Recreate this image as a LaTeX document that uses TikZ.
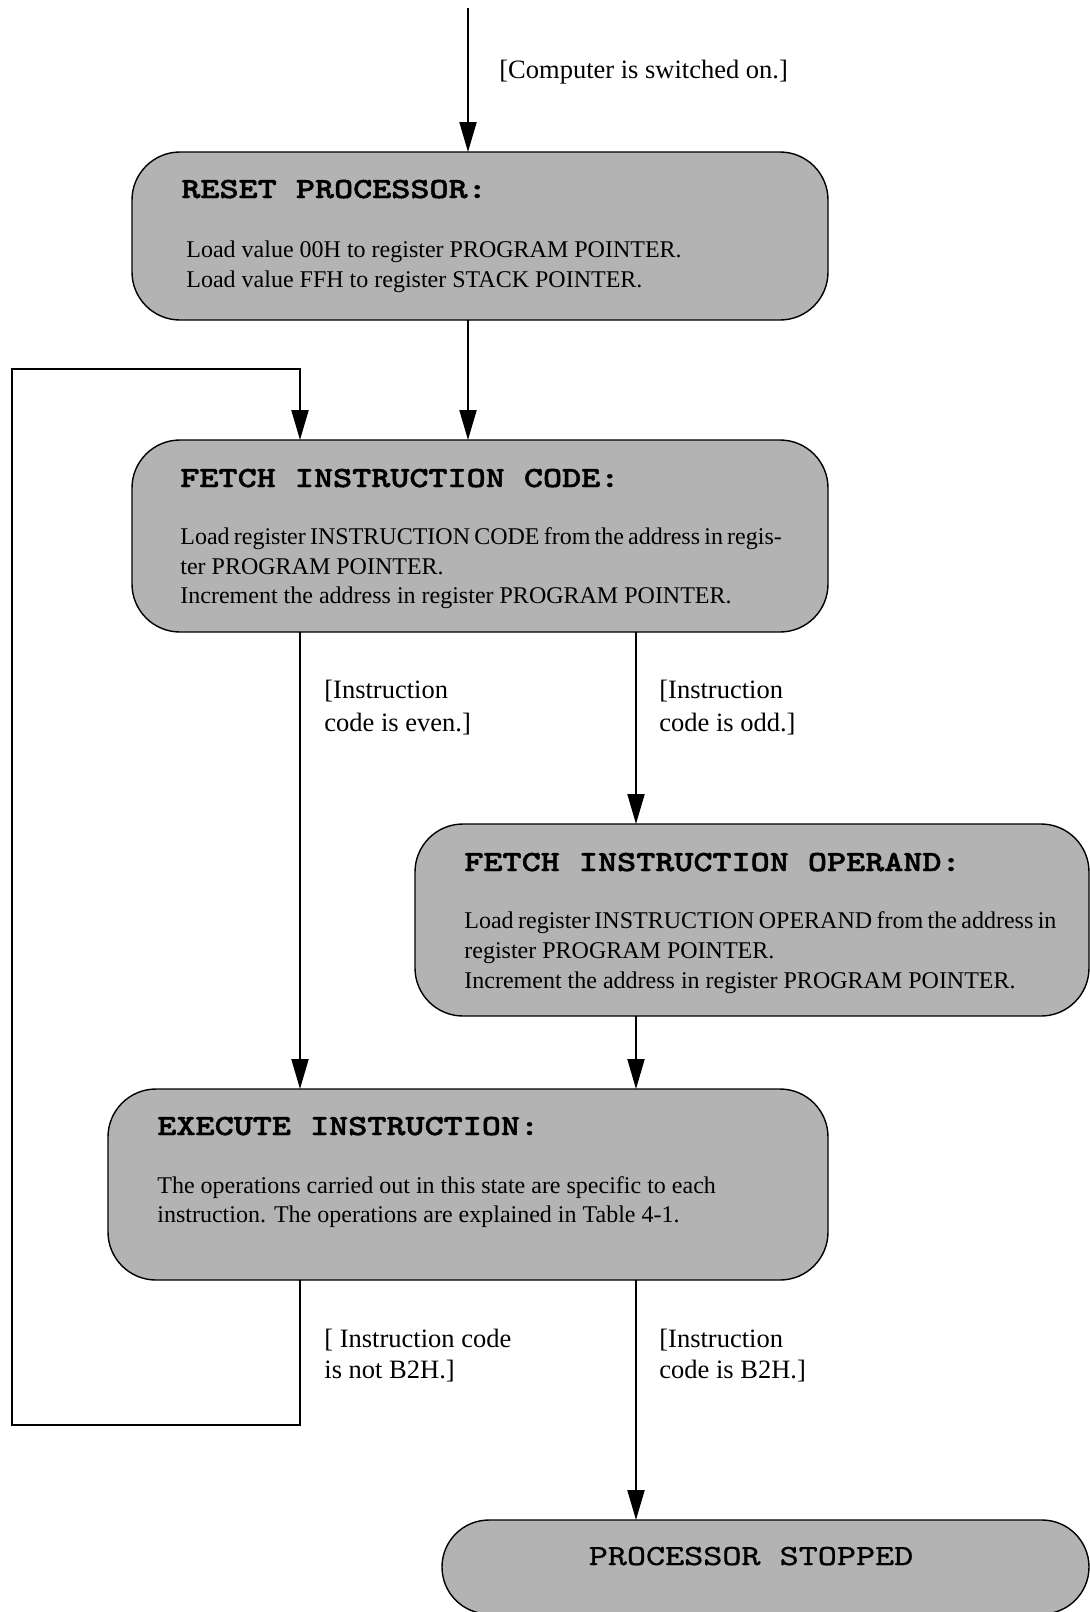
\documentclass[tikz,border=0pt]{standalone}
\usepackage{fontspec}
\setmainfont{Liberation Serif}
\newfontfamily\ttlfont{lmmonolt10-bold}[Extension=.otf, FakeStretch=1.245, FakeBold=1.6]
\newfontfamily\stopfont{lmmono10-regular}[Extension=.otf, FakeStretch=1.245, FakeBold=1]
\usetikzlibrary{arrows.meta}
\definecolor{boxgray}{RGB}{179,179,179}
\begin{document}
\begin{tikzpicture}[x=0.5pt,y=-0.5pt,
  statebox/.style={draw=black, line width=0.7pt, fill=boxgray, rounded corners=24pt,
    inner sep=0pt, outer sep=0pt},
  ttl/.style={anchor=base west, inner sep=0pt, font=\fontsize{14.6pt}{17pt}\selectfont\ttlfont},
  body/.style={anchor=base west, inner sep=0pt, font=\fontsize{12pt}{14.75pt}\selectfont},
  lbl/.style={anchor=base west, inner sep=0pt, font=\fontsize{13.25pt}{16pt}\selectfont},
  arr/.style={line width=1pt, -{Triangle[length=15pt,width=8.5pt]}},
  ln/.style={line width=1pt}]
\useasboundingbox (0,0) rectangle (1090,1612);
\fill[white] (0,0) rectangle (1090,1612);

% boxes
\node[statebox, minimum width=348pt, minimum height=84pt] (reset) at (480,236) {};
\node[statebox, minimum width=348pt, minimum height=96pt] (fetch) at (480,536) {};
\node[statebox, minimum width=337pt, minimum height=96pt] (oper) at (752,920) {};
\node[statebox, minimum width=360pt, minimum height=95.5pt] (exec) at (468,1184.5) {};
\node[statebox, minimum width=323.5pt, minimum height=47pt, rounded corners=23.5pt] (stop) at (765.5,1567) {};

% titles and texts
\node[lbl] (lcomp) at (499,78) {[Computer is switched on.]};

\node[ttl] (treset) at (181,198) {RESET PROCESSOR:};
\node[body] (r1) at (186,257) {Load value 00H to register PROGRAM POINTER.};
\node[body] (r2) at (186,287) {Load value FFH to register STACK POINTER.};

\node[ttl] (tfetch) at (180,487) {FETCH INSTRUCTION CODE:};
\node[body] (f1) at (180,544) {\spaceskip=2.1pt\relax Load register INSTRUCTION CODE from the address in regis-};
\node[body] (f2) at (180,574) {ter PROGRAM POINTER.};
\node[body] (f3) at (180,603) {Increment the address in register PROGRAM POINTER.};

\node[lbl] (le1) at (324,698) {[Instruction};
\node[lbl] (le2) at (324,731) {code is even.]};
\node[lbl] (lo1) at (659,698) {[Instruction};
\node[lbl] (lo2) at (659,731) {code is odd.]};

\node[ttl] (toper) at (464,871) {FETCH INSTRUCTION OPERAND:};
\node[body] (o1) at (464,928) {\spaceskip=2.2pt\relax Load register INSTRUCTION OPERAND from the address in};
\node[body] (o2) at (464,958) {register PROGRAM POINTER.};
\node[body] (o3) at (464,988) {Increment the address in register PROGRAM POINTER.};

\node[ttl] (texec) at (157,1135) {EXECUTE INSTRUCTION:};
\node[body] (e1) at (157,1193) {The operations carried out in this state are specific to each};
\node[body] (e2) at (157,1222) {instruction. The operations are explained in Table 4-1.};

\node[lbl] (ln1) at (324,1347) {[ Instruction code};
\node[lbl] (ln2) at (324,1378) {is not B2H.]};
\node[lbl] (lb1) at (659,1347) {[Instruction};
\node[lbl] (lb2) at (659,1378) {code is B2H.]};

\node[anchor=base, inner sep=0pt, font=\fontsize{14.6pt}{17pt}\selectfont\stopfont] (tstop) at (751,1565) {PROCESSOR STOPPED};

% connectors
\coordinate (start) at (468,8);
\coordinate (lx) at (300,0);
\coordinate (rx) at (636,0);
\coordinate (lb) at (12,1425);
\coordinate (lt) at (12,369);

\draw[arr] (start) -- (start |- reset.north);
\draw[arr] (reset.south -| start) -- (fetch.north -| start);
\draw[arr] (fetch.south -| lx) -- (exec.north -| lx);
\draw[arr] (fetch.south -| rx) -- (oper.north -| rx);
\draw[arr] (oper.south -| rx) -- (exec.north -| rx);
\draw[arr] (exec.south -| rx) -- (stop.north -| rx);
\draw[arr] (exec.south -| lx) |- (lb) -- (lt) -| (fetch.north -| lx);
\end{tikzpicture}
\end{document}
